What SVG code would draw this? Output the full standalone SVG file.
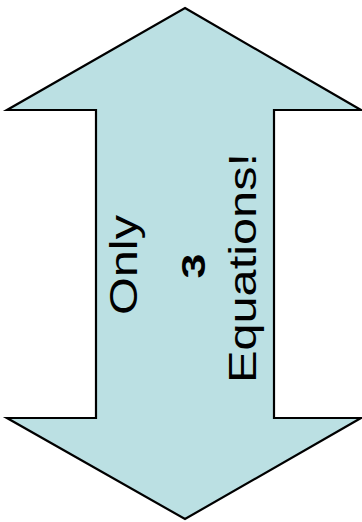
<svg xmlns="http://www.w3.org/2000/svg" width="362" height="522" viewBox="0 0 362 522">
<style>
.arrow{fill:#bbe0e3;stroke:#000;stroke-width:2.2;stroke-linejoin:miter}
.t{font-family:"Liberation Sans",Arial,sans-serif;fill:#000;text-anchor:middle}
</style>
<rect width="362" height="522" fill="#fff"/>
<g id="arrow">
<polygon class="arrow" points="185,8 361,110 274,110 274,418 361,418 185,519 7,418 96,418 96,110 7,110"/>
</g>
<g id="label">
<text class="t" font-size="38" transform="translate(137,265) rotate(-90)" textLength="100" lengthAdjust="spacingAndGlyphs">Only</text>
<text class="t" font-size="33" font-weight="bold" transform="translate(205,266) rotate(-90)" textLength="25" lengthAdjust="spacingAndGlyphs">3</text>
<text class="t" font-size="38" transform="translate(256,268) rotate(-90)" textLength="230" lengthAdjust="spacingAndGlyphs">Equations!</text>
</g>
</svg>
